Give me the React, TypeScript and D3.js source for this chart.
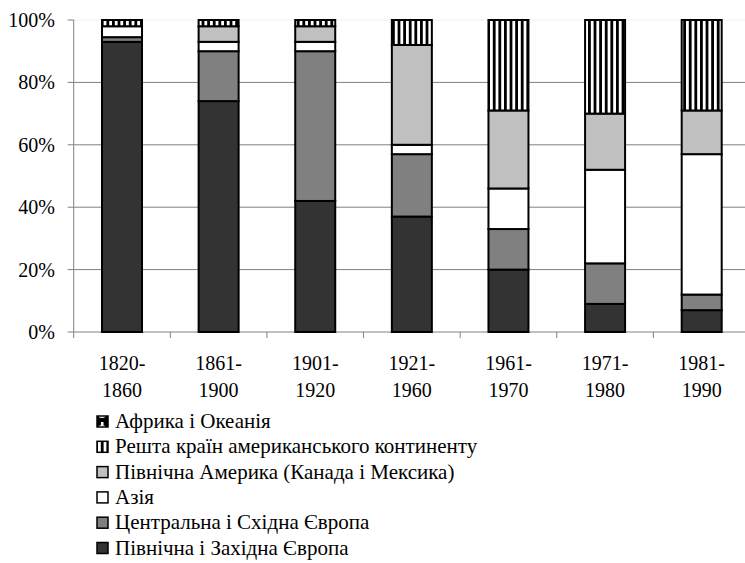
import React from "react";
import * as d3 from "d3";

// periods of immigration (two-line labels)
const periods = [
  ["1820-", "1860"],
  ["1861-", "1900"],
  ["1901-", "1920"],
  ["1921-", "1960"],
  ["1961-", "1970"],
  ["1971-", "1980"],
  ["1981-", "1990"],
];

// shares, % (bottom to top)
const nwEurope = [93, 74, 42, 37, 20, 9, 7];
const ceEurope = [1.5, 16, 48, 20, 13, 13, 5];
const asia = [3.5, 3, 3, 3, 13, 30, 45];
const northAmerica = [0, 5, 5, 32, 25, 18, 14];
const restAmericas = [2, 2, 2, 8, 29, 30, 29];
const africaOceania = [0, 0, 0, 0, 0, 0, 0];

const seriesNames = [
  "Північна і Західна Європа",
  "Центральна і Східна Європа",
  "Азія",
  "Північна Америка (Канада і Мексика)",
  "Решта країн американського континенту",
  "Африка і Океанія",
];
const seriesKeys = ["nw", "ce", "asia", "na", "rest", "africa"];
const seriesData = [nwEurope, ceEurope, asia, northAmerica, restAmericas, africaOceania];
const yTicks = [0, 20, 40, 60, 80, 100];

const fills = ["#333333", "#808080", "#ffffff", "#c0c0c0", "url(#stripes)", "url(#blob)"];

const W = 745;
const H = 563;
const margin = { top: 20, left: 73.7, bottom: 332, right: 750 };
const font = "Liberation Serif, Tinos, serif";

export default function App() {
  const labels = periods.map((p) => p.join(""));
  const rows = labels.map((l, i) => {
    const r: any = { label: l };
    seriesKeys.forEach((k, j) => (r[k] = seriesData[j][i]));
    return r;
  });
  const stacked = d3.stack().keys(seriesKeys)(rows);

  const x = d3
    .scaleBand()
    .domain(labels)
    .range([margin.left, margin.right])
    .paddingInner(0.586)
    .paddingOuter(0.293);
  const y = d3.scaleLinear().domain([0, 100]).range([margin.bottom, margin.top]);
  const gap = x.step() - x.bandwidth();

  return (
    <svg
      width={W}
      height={H}
      style={{ position: "absolute", left: 0, top: 0, background: "#fff" }}
    >
      <defs>
        <pattern id="stripes" patternUnits="userSpaceOnUse" width={5.6} height={10}>
          <rect width={5.6} height={10} fill="#fff" />
          <rect width={2.8} height={10} fill="#000" />
        </pattern>
        <pattern id="blob" patternUnits="userSpaceOnUse" width={12} height={12}>
          <rect width={12} height={12} fill="#000" />
          <ellipse cx={6} cy={7.5} rx={3.5} ry={2.5} fill="#fff" />
          <rect x={5} y={2} width={2.5} height={3} fill="#fff" />
        </pattern>
      </defs>

      {/* gridlines */}
      {yTicks.map((t) => (
        <line
          key={t}
          x1={margin.left}
          x2={W}
          y1={y(t)}
          y2={y(t)}
          stroke={t === 100 ? "#f0f0f0" : "#808080"}
          strokeWidth={1}
        />
      ))}

      {/* y axis */}
      <line x1={margin.left} x2={margin.left} y1={y(100)} y2={y(0)} stroke="#808080" />
      {yTicks.map((t) => (
        <g key={t}>
          <line x1={margin.left - 6} x2={margin.left} y1={y(t)} y2={y(t)} stroke="#808080" />
          <text
            x={55}
            y={y(t) + 7}
            textAnchor="end"
            fontSize={20}
            fill="#000"
            style={{ fontFamily: font }}
          >
            {t}%
          </text>
        </g>
      ))}

      {/* x axis ticks between categories */}
      {labels.map((l) => (
        <line
          key={l}
          x1={x(l)! - gap / 2}
          x2={x(l)! - gap / 2}
          y1={y(0)}
          y2={y(0) + 6}
          stroke="#808080"
        />
      ))}

      {/* bars */}
      {stacked.map((s, j) =>
        s.map((d, i) =>
          d[1] - d[0] > 0 ? (
            <rect
              key={`${j}-${i}`}
              x={x(labels[i])}
              y={y(d[1])}
              width={x.bandwidth()}
              height={y(d[0]) - y(d[1])}
              fill={fills[j]}
              stroke="#000"
              strokeWidth={2}
            />
          ) : null
        )
      )}

      {/* x labels */}
      {periods.map((p, i) => {
        const cx = x(labels[i])! + x.bandwidth() / 2;
        return (
          <text
            key={i}
            textAnchor="middle"
            fontSize={20}
            fill="#000"
            style={{ fontFamily: font }}
          >
            <tspan x={cx} y={370}>
              {p[0]}
            </tspan>
            <tspan x={cx} y={397}>
              {p[1]}
            </tspan>
          </text>
        );
      })}

      {/* legend, reversed order */}
      {seriesNames
        .map((n, j) => ({ n, j }))
        .reverse()
        .map(({ n, j }, k) => {
          const base = 428 + k * 25.3;
          return (
            <g key={n}>
              <rect
                x={97}
                y={base - 12}
                width={11}
                height={11}
                fill={fills[j]}
                stroke="#000"
                strokeWidth={1.5}
              />
              <text
                x={115}
                y={base}
                fontSize={21}
                fill="#000"
                style={{ fontFamily: font }}
              >
                {n}
              </text>
            </g>
          );
        })}
    </svg>
  );
}
